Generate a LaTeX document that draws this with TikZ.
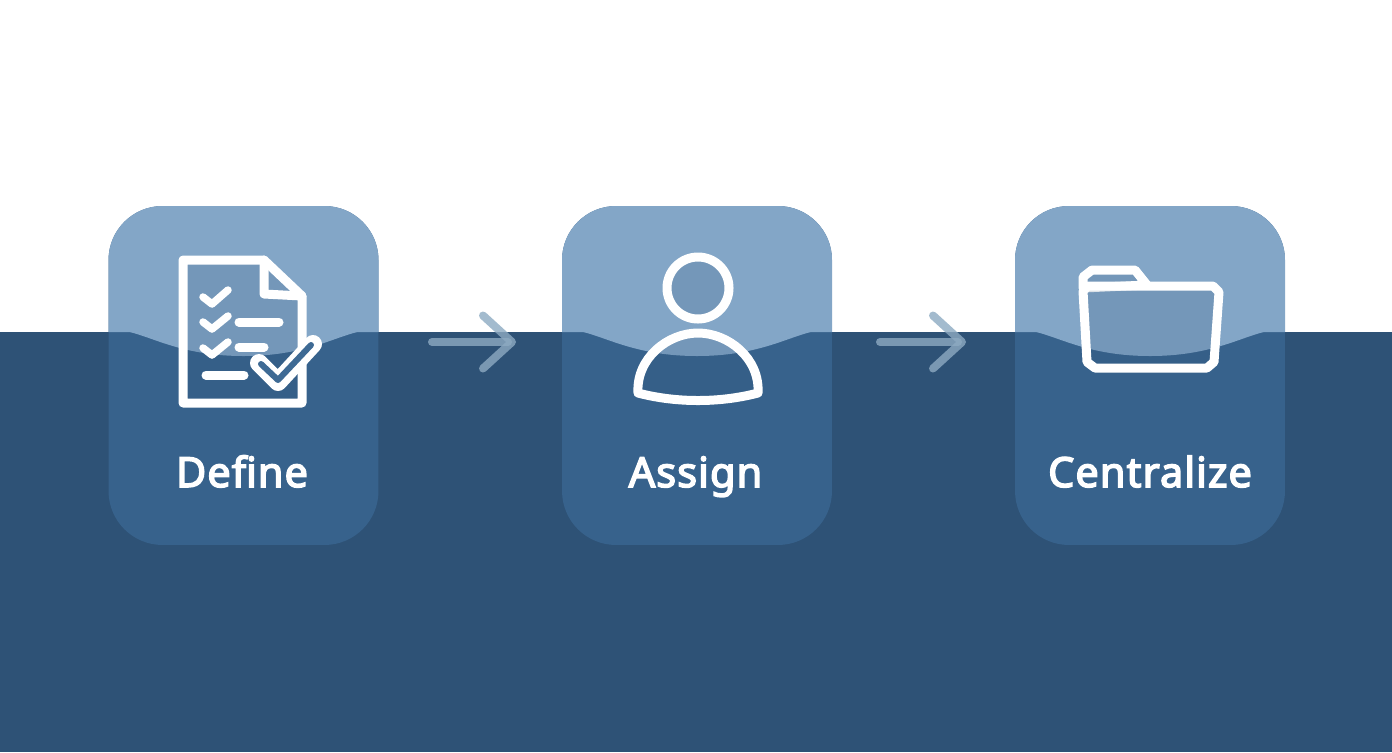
\documentclass[tikz,border=0pt]{standalone}
\usepackage{fontspec}
\setsansfont{Noto Sans}[FakeBold=3.6, LetterSpace=2.6]
\usetikzlibrary{arrows.meta}
\definecolor{bandblue}{HTML}{2E5276}
\definecolor{cardlow}{HTML}{37628C}
\definecolor{cardhigh}{HTML}{83A6C7}
\definecolor{arrowblue}{HTML}{8DAAC2}
\definecolor{checkin}{HTML}{3E6A94}
\tikzset{
    pics/cardtop/.style={code={
        \fill[cardhigh] (-135, -43.5) [rounded corners=1.08cm] -- (-135, -169.5) -- (135, -169.5) [sharp corners] -- (135, -43.5) -- (114, -43.5)
            .. controls (90, -38) and (60, -19.5) .. (0, -19.5)
            .. controls (-60, -19.5) and (-90, -38) .. (-114, -43.5) -- cycle;
    }}
}
\begin{document}
\begin{tikzpicture}[x=0.02cm, y=-0.02cm, font=\sffamily,
        card/.style={fill=cardlow, minimum width=5.4cm, minimum height=6.78cm, rounded corners=1.08cm, outer sep=0pt},
        cardlabel/.style={text=white, anchor=base, inner sep=0pt, font=\sffamily\fontsize{23.6}{28}\selectfont},
        iconline/.style={draw=white, line width=0.18cm, line join=round, line cap=round},
        iconshape/.style={iconline, fill=bandblue, fill opacity=0.17},
        tickline/.style={iconline, line width=0.15cm},
        flowarrow/.style={draw=arrowblue, draw opacity=0.8, line width=0.16cm, line cap=round, -{Straight Barb[length=0.58cm, width=1.06cm, round]}}]
        \useasboundingbox (0, 0) rectangle (1392, 752);
        \fill[white] (0, 0) rectangle (1392, 752);
        \fill[bandblue] (0, 332) rectangle (1392, 752);

        \node[card] (define) at (243.5, 375.5) {};
        \node[card] (assign) at (697, 375.5) {};
        \node[card] (centralize) at (1150, 375.5) {};
        \pic at (define.center) {cardtop};
        \pic at (assign.center) {cardtop};
        \pic at (centralize.center) {cardtop};

        % checklist
        \draw[iconshape] (183, 260) -- (264, 260) -- (302, 296) -- (302, 403) -- (183, 403) -- cycle;
        \draw[iconline] (264, 260) -- (264, 294) -- (302, 296);
        \draw[tickline] (203, 297) -- (212, 304) -- (228, 290);
        \draw[tickline] (203, 322) -- (212, 329) -- (228, 316);
        \draw[tickline] (203, 348) -- (212, 355) -- (228, 342);
        \draw[iconline] (239, 322) -- (279, 322);
        \draw[iconline] (239, 347) -- (264, 347);
        \draw[iconline] (206, 375) -- (244, 375);
        \draw[iconline, line width=0.36cm] (259, 363) -- (278, 382) -- (313, 344);
        \draw[checkin, line width=0.12cm, line join=round, line cap=round] (261, 364) -- (278, 380) -- (311, 345);

        % person
        \draw[iconshape] (698, 288) circle[radius=31];
        \draw[iconshape] (638, 393) .. controls (636, 358) and (668, 333) .. (698, 333) .. controls (728, 333) and (760, 358) .. (758, 393) .. controls (720, 403) and (676, 403) .. cycle;

        % folder
        \draw[iconshape] (1083, 288) -- (1083, 277) -- (1092, 270) -- (1135, 270) -- (1147, 285) -- cycle;
        \draw[iconshape] (1083, 291) -- (1088, 286) -- (1213, 286) -- (1219, 292) -- (1214, 362) -- (1207, 368) -- (1095, 368) -- (1087, 362) -- cycle;

        \node[cardlabel] (definelabel) at (242, 487) {Define};
        \node[cardlabel] (assignlabel) at (695.5, 487) {Assign};
        \node[cardlabel] (centralizelabel) at (1150, 487) {Centralize};

        \coordinate (firststart) at (432, 342);
        \coordinate (firstend) at (516, 342);
        \coordinate (secondstart) at (880, 342);
        \coordinate (secondend) at (966, 342);
        \draw[flowarrow] (firststart) -- (firstend);
        \draw[flowarrow] (secondstart) -- (secondend);
    \end{tikzpicture}
\end{document}
